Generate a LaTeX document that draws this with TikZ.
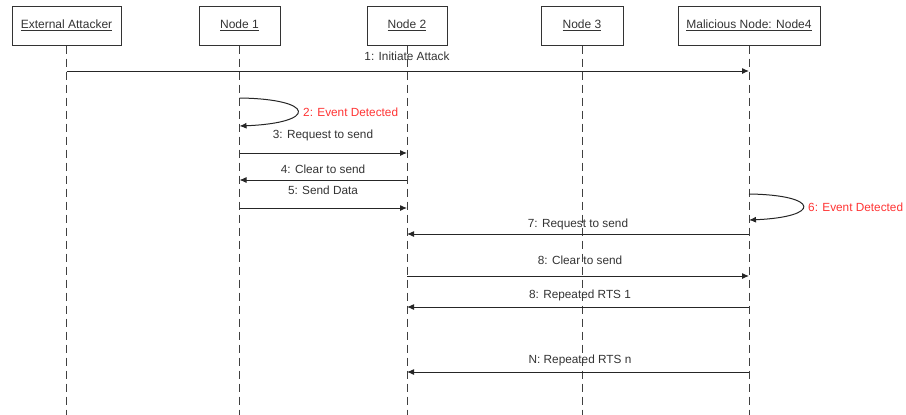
\documentclass[tikz,border=0pt]{standalone}
\usepackage{fontspec}
\setmainfont{Liberation Sans}
\usetikzlibrary{arrows.meta}
\definecolor{txt}{HTML}{333333}
\definecolor{evred}{HTML}{FF3333}
\begin{document}
\begin{tikzpicture}[x=1pt,y=-1pt,
  actor/.style={draw=black!80,line width=1pt,minimum height=39pt,inner sep=0pt,font=\fontsize{12}{14}\selectfont,text=txt},
  life/.style={draw=black!75,line width=0.9pt,dash pattern=on 8pt off 5pt},
  msg/.style={draw=black!85,line width=1pt,-{Latex[length=7pt,width=6pt]}},
  lbl/.style={font=\fontsize{11.8}{13}\selectfont,text=txt,inner sep=0pt},
  ev/.style={font=\fontsize{11.8}{13}\selectfont,text=evred,inner sep=0pt,anchor=west}]
\useasboundingbox (0,0) rectangle (906,415);
% actors
\node[actor,minimum width=109pt] (ea) at (66.5,25.5) {\underline{External Attacker}};
\node[actor,minimum width=81pt] (n1) at (239.5,25.5) {\underline{Node 1}};
\node[actor,minimum width=80pt] (n2) at (407,25.5) {\underline{Node 2}};
\node[actor,minimum width=82pt] (n3) at (582,25.5) {\underline{Node 3}};
\node[actor,minimum width=142pt] (n4) at (749,25.5) {\underline{Malicious Node: Node4}};
% lifeline ends
\coordinate (eaE) at (ea.south |- 0,415);
\coordinate (n1E) at (n1.south |- 0,415);
\coordinate (n2E) at (n2.south |- 0,415);
\coordinate (n3E) at (n3.south |- 0,415);
\coordinate (n4E) at (n4.south |- 0,415);
\draw[life] (ea.south) -- (eaE);
\draw[life] (n1.south) -- (n1E);
\draw[life] (n2.south) -- (n2E);
\draw[life] (n3.south) -- (n3E);
\draw[life] (n4.south) -- (n4E);
% message endpoints
\coordinate (m1a) at (ea.south |- 0,71);  \coordinate (m1b) at (n4.south |- 0,71);
\coordinate (m2a) at (n1.south |- 0,98);  \coordinate (m2b) at (n1.south |- 0,126);
\coordinate (m3a) at (n1.south |- 0,153); \coordinate (m3b) at (n2.south |- 0,153);
\coordinate (m4a) at (n2.south |- 0,180); \coordinate (m4b) at (n1.south |- 0,180);
\coordinate (m5a) at (n1.south |- 0,208); \coordinate (m5b) at (n2.south |- 0,208);
\coordinate (m6a) at (n4.south |- 0,194); \coordinate (m6b) at (n4.south |- 0,220);
\coordinate (m7a) at (n4.south |- 0,234); \coordinate (m7b) at (n2.south |- 0,234);
\coordinate (m8a) at (n2.south |- 0,276); \coordinate (m8b) at (n4.south |- 0,276);
\coordinate (m9a) at (n4.south |- 0,307); \coordinate (m9b) at (n2.south |- 0,307);
\coordinate (mNa) at (n4.south |- 0,372); \coordinate (mNb) at (n2.south |- 0,372);
% messages
\draw[msg] (m1a) -- (m1b);
\node[lbl] (l1) at (407,56) {1: Initiate Attack};
\draw[msg] (m2a) .. controls (316,99) and (318,123) .. (m2b);
\node[ev] (l2) at (303,112) {2: Event Detected};
\draw[msg] (m6a) .. controls (820,195) and (822,217) .. (m6b);
\node[ev] (l6) at (808,207) {6: Event Detected};
\draw[msg] (m3a) -- (m3b);
\node[lbl] (l3) at (323,135) {3: Request to send};
\draw[msg] (m4a) -- (m4b);
\node[lbl] (l4) at (323,169) {4: Clear to send};
\draw[msg] (m5a) -- (m5b);
\node[lbl] (l5) at (323,190) {5: Send Data};
\draw[msg] (m7a) -- (m7b);
\node[lbl] (l7) at (578,224) {7: Request to send};
\draw[msg] (m8a) -- (m8b);
\node[lbl] (l8) at (580,260) {8: Clear to send};
\draw[msg] (m9a) -- (m9b);
\node[lbl] (l9) at (580,295) {8: Repeated RTS 1};
\draw[msg] (mNa) -- (mNb);
\node[lbl] (lN) at (580,360) {N: Repeated RTS n};
\end{tikzpicture}
\end{document}
